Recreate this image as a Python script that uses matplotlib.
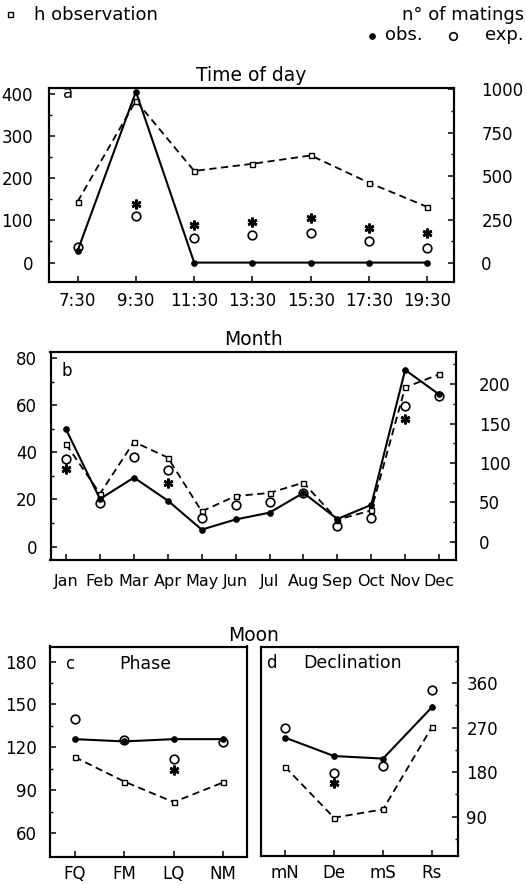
import numpy as np
import matplotlib
matplotlib.use('Agg')
import matplotlib.pyplot as plt
from matplotlib.ticker import MultipleLocator, FixedLocator, NullLocator
from matplotlib.lines import Line2D

nan = np.nan

# ---- (a) Time of day ----
hours = ['7:30', '9:30', '11:30', '13:30', '15:30', '17:30', '19:30']
a_obs = [28, 405, 0, 0, 0, 0, 0]            # n° of matings observed (left axis)
a_exp = [36, 110, 58, 65, 71, 51, 34]       # n° of matings expected (left axis)
a_sig = [nan, 140, 90, 97, 105, 83, 70]     # significance asterisks
a_hobs = [354, 934, 530, 571, 619, 462, 323]  # h observation (right axis)

# ---- (b) Month ----
months = ['Jan', 'Feb', 'Mar', 'Apr', 'May', 'Jun', 'Jul', 'Aug', 'Sep', 'Oct', 'Nov', 'Dec']
b_obs = [49.7, 20.2, 29.3, 19.5, 7.2, 11.5, 14.4, 22.8, 11.7, 17.7, 75.0, 64.6]
b_exp = [37.2, 18.4, 37.9, 32.6, 12.0, 17.7, 18.9, 22.8, 8.8, 12.2, 59.6, 63.8]
b_sig = [33.1, nan, nan, 27.1, nan, nan, nan, nan, nan, nan, 54.2, nan]
b_hobs = [123.7, 61.0, 126.7, 106.8, 38.6, 58.0, 61.9, 75.0, 28.0, 39.8, 195.8, 212.3]

# ---- (c) Moon phase ----
phases = ['FQ', 'FM', 'LQ', 'NM']
c_obs = [125.7, 124.1, 125.7, 125.7]
c_exp = [139.7, 125.2, 112.0, 123.4]
c_sig = [nan, nan, 104.3, nan]
c_hobs = [211.0, 161.7, 120.2, 159.7]

# ---- (d) Moon declination ----
decl = ['mN', 'De', 'mS', 'Rs']
d_obs = [126.6, 113.7, 111.9, 148.0]
d_exp = [133.4, 102.0, 106.6, 160.2]
d_sig = [nan, 94.5, nan, nan]
d_hobs = [190.7, 88.0, 104.7, 271.3]

plt.rcParams['font.family'] = ['DejaVu Sans']

W, H = 526, 885
fig = plt.figure(figsize=(W / 100, H / 100), dpi=100)


def rect(l, r, t, b):
    return [l / W, 1 - b / H, (r - l) / W, (b - t) / H]


TICK_FS = 12
SP_LW = 1.5


def style(ax, side, pad):
    for s in ax.spines.values():
        s.set_linewidth(SP_LW)
    ax.tick_params(axis='both', which='major', direction='in', length=4.5, width=1.1,
                   labelsize=TICK_FS, colors='k')
    ax.tick_params(axis='both', which='minor', direction='in', length=2.5, width=1.0)
    ax.tick_params(axis='y', which='both', pad=pad)
    ax.tick_params(axis='x', which='minor', bottom=False, top=False)


def draw(ax, axh, labels, obs, exp, sig, hobs):
    x = np.arange(len(labels))
    axh.plot(x, hobs, ls='--', dashes=(4, 2.5), color='k', lw=1.3, marker='s', ms=3.6,
             mfc='white', mec='k', mew=1.0, zorder=2)
    ax.plot(x, obs, ls='-', color='k', lw=1.5, marker='o', ms=3.8, mfc='k', mec='k', zorder=3)
    ax.plot(x, exp, ls='none', marker='o', ms=6.2, mfc='none', mec='k', mew=1.2, zorder=4)
    ax.plot(x, sig, ls='none', marker=(6, 2, 0), ms=7, mec='k', mew=1.9, zorder=4)
    ax.set_xticks(x, labels)
    ax.set_zorder(axh.get_zorder() + 1)
    ax.patch.set_visible(False)


# ---------- panel a ----------
ax_a = fig.add_axes(rect(48.5, 453.5, 87.5, 282))
ax_ah = ax_a.twinx()
draw(ax_a, ax_ah, hours, a_obs, a_exp, a_sig, a_hobs)
ax_a.set_xlim(-0.5, 6.45)
ax_a.set_ylim(-46, 415)
ax_ah.set_ylim(-109, 1010)
ax_a.yaxis.set_major_locator(MultipleLocator(100))
ax_a.yaxis.set_minor_locator(MultipleLocator(50))
ax_ah.yaxis.set_major_locator(MultipleLocator(250))
ax_ah.yaxis.set_minor_locator(MultipleLocator(125))
style(ax_a, 'left', 11)
style(ax_ah, 'right', 20)
ax_a.tick_params(axis='x', pad=7)
for lab in ax_ah.get_yticklabels():
    lab.set_ha('left')
ax_a.set_title('Time of day', fontsize=13.5, pad=5)
ax_a.text(0.037, 0.944, 'a', transform=ax_a.transAxes, fontsize=12, va='baseline', ha='left')

# ---------- panel b ----------
ax_b = fig.add_axes(rect(50.5, 456, 352, 560))
ax_bh = ax_b.twinx()
draw(ax_b, ax_bh, months, b_obs, b_exp, b_sig, b_hobs)
ax_b.set_xlim(-0.46, 11.5)
ax_b.set_ylim(-5.7, 82.6)
ax_bh.set_ylim(-23.1, 240.7)
ax_b.yaxis.set_major_locator(MultipleLocator(20))
ax_b.yaxis.set_minor_locator(MultipleLocator(10))
ax_bh.yaxis.set_major_locator(MultipleLocator(50))
ax_bh.yaxis.set_minor_locator(MultipleLocator(25))
style(ax_b, 'left', 9.5)
style(ax_bh, 'right', 16.5)
ax_b.tick_params(axis='x', pad=10, labelsize=11.5)
ax_b.set_title('Month', fontsize=13.5, pad=5)
ax_b.text(0.028, 0.885, 'b', transform=ax_b.transAxes, fontsize=12, va='baseline', ha='left')

# ---------- panel c ----------
ax_c = fig.add_axes(rect(50, 246.7, 646.5, 856.5))
ax_ch = ax_c.twinx()
draw(ax_c, ax_ch, phases, c_obs, c_exp, c_sig, c_hobs)
ax_c.set_xlim(-0.5, 3.48)
ax_c.set_ylim(43.6, 190.5)
ax_ch.set_ylim(10.6, 433.7)
ax_c.yaxis.set_major_locator(MultipleLocator(30))
ax_c.yaxis.set_minor_locator(FixedLocator([75, 105, 135, 165]))
style(ax_c, 'left', 9.5)
style(ax_ch, 'right', 6)
ax_ch.yaxis.set_major_locator(NullLocator())
ax_ch.yaxis.set_minor_locator(NullLocator())
ax_c.tick_params(axis='x', pad=6)
ax_c.text(0.076, 0.893, 'c', transform=ax_c.transAxes, fontsize=12, va='baseline', ha='left')
ax_c.text(0.483, 0.893, 'Phase', transform=ax_c.transAxes, fontsize=12.5, va='baseline', ha='center')

# ---------- panel d ----------
ax_d = fig.add_axes(rect(260.5, 458, 646.5, 856))
ax_dh = ax_d.twinx()
draw(ax_d, ax_dh, decl, d_obs, d_exp, d_sig, d_hobs)
ax_d.set_xlim(-0.5, 3.53)
ax_d.set_ylim(43.6, 190.5)
ax_dh.set_ylim(10.6, 433.7)
style(ax_d, 'left', 9.5)
ax_d.yaxis.set_major_locator(NullLocator())
ax_d.yaxis.set_minor_locator(NullLocator())
ax_dh.yaxis.set_major_locator(MultipleLocator(90))
ax_dh.yaxis.set_minor_locator(MultipleLocator(45))
style(ax_dh, 'right', 6)
ax_d.tick_params(axis='x', pad=6)
ax_d.text(0.031, 0.897, 'd', transform=ax_d.transAxes, fontsize=12, va='baseline', ha='left')
ax_d.text(0.468, 0.897, 'Declination', transform=ax_d.transAxes, fontsize=12.5, va='baseline', ha='center')

fig.text((50 + 458) / 2 / W, 1 - 641 / H, 'Moon', fontsize=13.5, ha='center', va='baseline')

# ---------- header legend ----------
def fx(x):
    return x / W


def fy(y):
    return 1 - y / H


fig.add_artist(Line2D([fx(10)], [fy(14)], transform=fig.transFigure, ls='none', marker='s',
                      ms=3.6, mfc='white', mec='k', mew=1.0))
fig.text(fx(34), fy(20), 'h observation', fontsize=13, ha='left', va='baseline')
fig.text(fx(524), fy(20), 'n° of matings', fontsize=13, ha='right', va='baseline')
fig.add_artist(Line2D([fx(372)], [fy(36)], transform=fig.transFigure, ls='none', marker='o',
                      ms=3.8, mfc='k', mec='k'))
fig.text(fx(385), fy(40.5), 'obs.', fontsize=13, ha='left', va='baseline')
fig.add_artist(Line2D([fx(453)], [fy(36)], transform=fig.transFigure, ls='none', marker='o',
                      ms=5.5, mfc='none', mec='k', mew=1.2))
fig.text(fx(524), fy(40.5), 'exp.', fontsize=13, ha='right', va='baseline')

fig.savefig('out.png', dpi=100, facecolor='white')
